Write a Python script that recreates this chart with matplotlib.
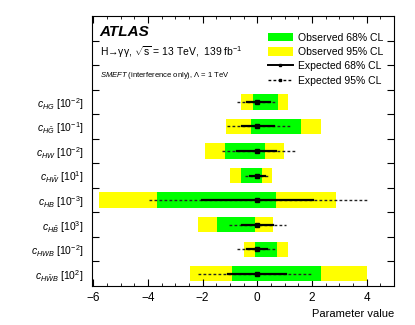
import numpy as np
import matplotlib
matplotlib.use("Agg")
import matplotlib.pyplot as plt
from matplotlib.patches import Patch
from matplotlib.lines import Line2D
from matplotlib.ticker import MultipleLocator

plt.rcParams["font.family"] = ["Liberation Sans", "DejaVu Sans"]
plt.rcParams["mathtext.fontset"] = "custom"
plt.rcParams["mathtext.rm"] = "Liberation Sans"
plt.rcParams["mathtext.it"] = "Liberation Sans:italic"
plt.rcParams["mathtext.bf"] = "Liberation Sans:bold"

# ── data (top row first) ──
labels = [
    r"$c_{HG}$ [10$^{-2}$]",
    r"$c_{H\tilde{G}}$ [10$^{-1}$]",
    r"$c_{HW}$ [10$^{-2}$]",
    r"$c_{H\tilde{W}}$ [10$^{1}$]",
    r"$c_{HB}$ [10$^{-3}$]",
    r"$c_{H\tilde{B}}$ [10$^{3}$]",
    r"$c_{HWB}$ [10$^{-2}$]",
    r"$c_{H\tilde{W}B}$ [10$^{2}$]",
]
obs68_lo = [-0.15, -0.23, -1.18, -0.61, -3.66, -1.48, -0.07, -0.93]
obs68_hi = [0.75, 1.60, 0.27, 0.16, 0.68, -0.08, 0.71, 2.33]
obs95_lo = [-0.61, -1.14, -1.91, -1.00, -5.81, -2.16, -0.48, -2.46]
obs95_hi = [1.12, 2.35, 0.98, 0.53, 2.87, 0.59, 1.11, 4.02]
exp68_lo = [-0.39, -0.57, -0.75, -0.27, -2.01, -0.55, -0.39, -1.06]
exp68_hi = [0.47, 0.61, 0.68, 0.28, 2.03, 0.59, 0.37, 1.07]
exp95_lo = [-0.73, -1.10, -1.30, -0.45, -3.96, -1.02, -0.73, -2.16]
exp95_hi = [0.73, 1.20, 1.38, 0.48, 4.00, 1.07, 0.71, 2.05]
exp_central = [0, 0, 0, 0, 0, 0, 0, 0]

GREEN = "#00ff00"
YELLOW = "#ffff00"
BAR_H = 0.62

fig = plt.figure(figsize=(4.15, 3.25), dpi=100)
ax = fig.add_axes([0.2217, 0.12, 0.949 - 0.2217, 0.9508 - 0.12])

n = len(labels)
ypos = np.array([n - 0.5 - i for i in range(n)])

# observed bands
ax.barh(ypos, np.array(obs95_hi) - np.array(obs95_lo), left=obs95_lo,
        height=BAR_H, color=YELLOW, linewidth=0, zorder=1)
ax.barh(ypos, np.array(obs68_hi) - np.array(obs68_lo), left=obs68_lo,
        height=BAR_H, color=GREEN, linewidth=0, zorder=2)

# expected intervals
for y, a, b in zip(ypos, exp95_lo, exp95_hi):
    ax.plot([a, b], [y, y], ls=(0, (2.0, 1.6)), color="#222222", lw=1.0, zorder=3)
for y, a, b in zip(ypos, exp68_lo, exp68_hi):
    ax.plot([a, b], [y, y], ls="-", color="black", lw=1.6, zorder=4)
ax.plot(exp_central, ypos, "s", color="black", ms=2.5, zorder=5)

ax.set_xlim(-6.05, 5.0)
ax.set_ylim(0, 11)

# axes style, ROOT-like
ax.xaxis.set_major_locator(MultipleLocator(2))
ax.xaxis.set_minor_locator(MultipleLocator(0.5))
ax.tick_params(axis="x", which="both", direction="in", top=True, bottom=True,
               labelsize=8.5, pad=4)
ax.tick_params(axis="x", which="major", length=5, width=0.8)
ax.tick_params(axis="x", which="minor", length=2.5, width=0.6)

ax.set_yticks(np.arange(1, 11))
ax.set_yticklabels([])
ax.set_yticks(ypos, minor=True)
ax.set_yticklabels(labels, minor=True)
ax.tick_params(axis="y", which="major", direction="in", left=True, right=True,
               length=5, width=0.8)
ax.tick_params(axis="y", which="minor", length=0, labelsize=7.5, pad=6)
for sp in ax.spines.values():
    sp.set_linewidth(0.8)

ax.set_xlabel("Parameter value", fontsize=8, loc="right")

# texts
ax.text(0.025, 0.942, "ATLAS", transform=ax.transAxes, fontsize=11,
        fontweight="bold", fontstyle="italic", va="center")
ax.text(0.025, 0.868, "H→γγ, $\\sqrt{\\rm s}$ = 13 TeV,  139 fb$^{-1}$",
        transform=ax.transAxes, fontsize=7.5, va="center")
ax.text(0.025, 0.778, r"$SMEFT$ (interference only), $\Lambda$ = 1 TeV",
        transform=ax.transAxes, fontsize=5.5, va="center")

handles = [
    Patch(facecolor=GREEN, edgecolor="none"),
    Patch(facecolor=YELLOW, edgecolor="none"),
    Line2D([], [], color="black", lw=1.4, marker="s", ms=2),
    Line2D([], [], color="black", lw=1.0, ls=(0, (2.0, 1.6)), marker="s", ms=2),
]
leg_labels = ["Observed 68% CL", "Observed 95% CL", "Expected 68% CL", "Expected 95% CL"]
ax.legend(handles, leg_labels, loc="upper right", bbox_to_anchor=(0.985, 0.962),
          frameon=False, fontsize=7.5, handlelength=2.4, handleheight=0.95,
          labelspacing=0.42, handletextpad=0.5, borderaxespad=0.2)

fig.savefig("out.png", dpi=100)
